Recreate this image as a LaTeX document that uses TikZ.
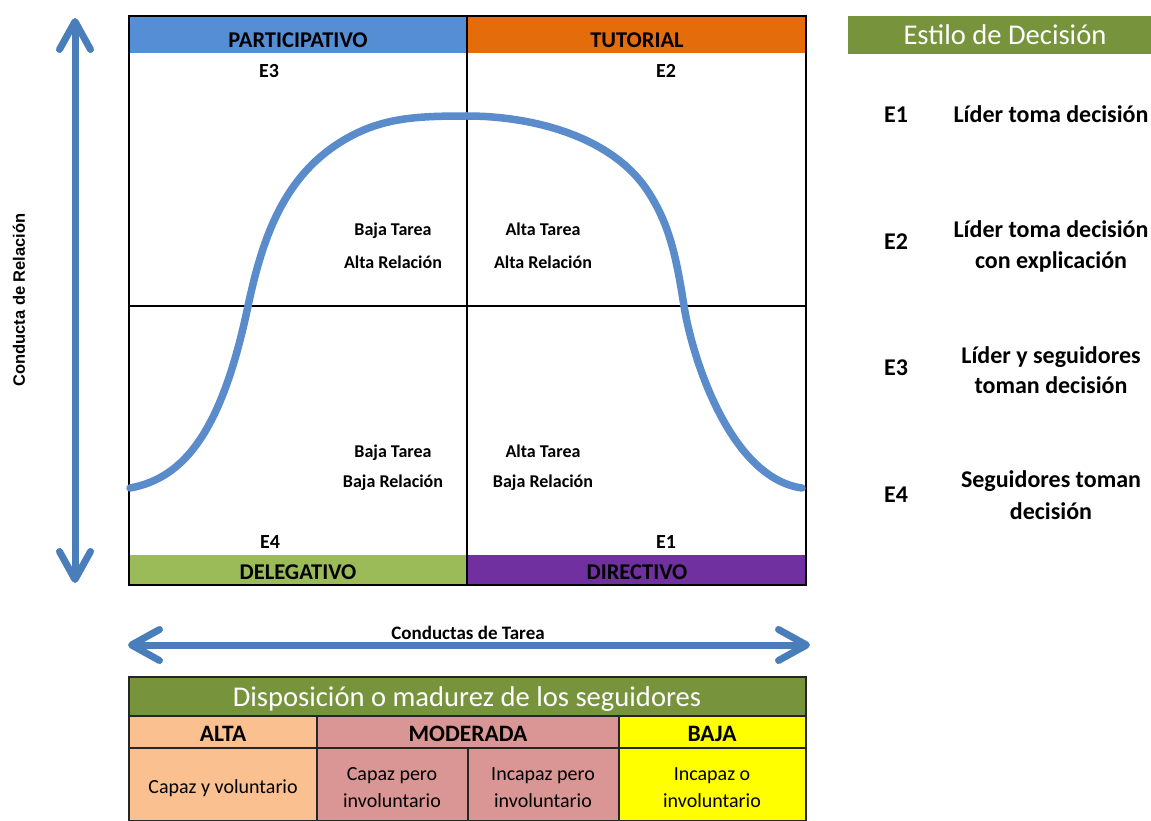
\documentclass[tikz,border=0pt]{standalone}
\usepackage{fontspec}
\setmainfont{Carlito}
\newfontfamily\axisfont{Liberation Sans}
\usetikzlibrary{arrows.meta}

\definecolor{partblue}{HTML}{558ED5}
\definecolor{tutorange}{HTML}{E46C0A}
\definecolor{delegreen}{HTML}{9BBB59}
\definecolor{dirpurple}{HTML}{7030A0}
\definecolor{olivegreen}{HTML}{77933C}
\definecolor{peach}{HTML}{FAC090}
\definecolor{rosy}{HTML}{D99694}
\definecolor{brightyellow}{HTML}{FFFF00}
\definecolor{arrowblue}{HTML}{4A7EBB}
\definecolor{curveblue}{HTML}{5A8BCA}

\tikzset{
  every node/.style={inner sep=0pt, outer sep=0pt},
  hdrtext/.style={anchor=base, font=\fontsize{22.5}{26}\selectfont\bfseries},
  elabel/.style={anchor=base, font=\fontsize{20}{24}\selectfont\bfseries},
  quadtext/.style={anchor=base, font=\fontsize{18}{22}\selectfont\bfseries},
  legtext/.style={anchor=base, font=\fontsize{24}{28}\selectfont\bfseries},
  titletext/.style={anchor=base, text=white, font=\fontsize{28.6}{33}\selectfont},
  colhead/.style={anchor=base, font=\fontsize{23.5}{27}\selectfont\bfseries},
  celltext/.style={anchor=base, font=\fontsize{20}{24}\selectfont},
  gridline/.style={draw=black, line width=1.3pt},
  tableline/.style={draw=black!85, line width=1.2pt},
  axisarrow/.style={draw=arrowblue, line width=7pt,
    {Straight Barb[length=28pt, width=31pt, round]}-{Straight Barb[length=28pt, width=31pt, round]}},
  bellcurve/.style={draw=curveblue, line width=7.5pt, line cap=round},
}

\begin{document}
\begin{tikzpicture}[x=1pt, y=-1pt]
\useasboundingbox (0,0) rectangle (1151,821);

% ---- style quadrant grid ----
\fill[partblue]  (129,16) rectangle (467,53);
\fill[tutorange] (467,16) rectangle (806,53);
\fill[delegreen] (129,555) rectangle (467,585);
\fill[dirpurple] (467,555) rectangle (806,585);
\draw[gridline] (129,306) -- (806,306);
\draw[gridline] (467,16) -- (467,585);
\draw[gridline] (129,16) rectangle (806,585);

% ---- bell-shaped leadership curve ----
\draw[bellcurve] (130,488)
  .. controls (185,478) and (222,430) .. (248,306)
  .. controls (263,236) and (285,170) .. (353,135)
  .. controls (387,117.5) and (420,116) .. (467,116)
  .. controls (530,116) and (610,135) .. (647,190)
  .. controls (669,223) and (676,255) .. (684,306)
  .. controls (692,357) and (730,478) .. (802,488);

% ---- quadrant headers and style codes ----
\node[hdrtext] (participativo) at (298,48) {PARTICIPATIVO};
\node[hdrtext] (tutorial) at (637,48) {TUTORIAL};
\node[hdrtext] (delegativo) at (298,579) {DELEGATIVO};
\node[hdrtext] (directivo) at (637,579) {DIRECTIVO};
\node[elabel] (e3) at (269,78) {E3};
\node[elabel] (e2) at (666,78) {E2};
\node[elabel] (e4) at (270,548) {E4};
\node[elabel] (e1) at (666,548) {E1};

% ---- quadrant descriptions ----
\node[quadtext] (q1a) at (393,236) {Baja Tarea};
\node[quadtext] (q1b) at (393,268) {Alta Relación};
\node[quadtext] (q2a) at (543,236) {Alta Tarea};
\node[quadtext] (q2b) at (543,268) {Alta Relación};
\node[quadtext] (q3a) at (393,457) {Baja Tarea};
\node[quadtext] (q3b) at (393,487) {Baja Relación};
\node[quadtext] (q4a) at (543,457) {Alta Tarea};
\node[quadtext] (q4b) at (543,487) {Baja Relación};

% ---- axes ----
\coordinate (vtop) at (75,18);
\coordinate (vbot) at (75,583);
\draw[axisarrow] (vtop) -- (vbot);
\node[rotate=90, font=\axisfont\fontsize{16.5}{20}\selectfont\bfseries] (ylabel) at (19,300) {Conducta de Relación};

\coordinate (hleft) at (128,645);
\coordinate (hright) at (810,645);
\draw[axisarrow] (hleft) -- (hright);
\node[anchor=base, font=\fontsize{19}{23}\selectfont\bfseries] (xlabel) at (468,639) {Conductas de Tarea};

% ---- decision style legend ----
\fill[olivegreen] (848,16) rectangle (1151,54);
\node[titletext] (legtitle) at (1005,45) {Estilo de Decisión};
\node[legtext] (l1) at (896,123) {E1};
\node[legtext] (d1) at (1051,123) {Líder toma decisión};
\node[legtext] (l2) at (896,250) {E2};
\node[legtext] (d2a) at (1051,237) {Líder toma decisión};
\node[legtext] (d2b) at (1051,268) {con explicación};
\node[legtext] (l3) at (896,375) {E3};
\node[legtext] (d3a) at (1051,363) {Líder y seguidores};
\node[legtext] (d3b) at (1051,393) {toman decisión};
\node[legtext] (l4) at (896,502) {E4};
\node[legtext] (d4a) at (1051,487) {Seguidores toman};
\node[legtext] (d4b) at (1051,519) {decisión};

% ---- follower readiness table ----
\fill[olivegreen] (129,677) rectangle (806,716);
\fill[peach] (129,716) rectangle (317,821);
\fill[rosy] (317,716) rectangle (619,821);
\fill[brightyellow] (619,716) rectangle (806,821);
\draw[tableline] (129,677) rectangle (806,821);
\draw[tableline] (129,716) -- (806,716);
\draw[tableline] (129,748) -- (806,748);
\draw[tableline] (317,716) -- (317,821);
\draw[tableline] (619,716) -- (619,821);
\draw[tableline] (468,748) -- (468,821);

\node[titletext] (tabtitle) at (467,706) {Disposición o madurez de los seguidores};
\node[colhead] (alta) at (223,741) {ALTA};
\node[colhead] (moderada) at (468,741) {MODERADA};
\node[colhead] (baja) at (712,741) {BAJA};
\node[celltext] (c1) at (223,793) {Capaz y voluntario};
\node[celltext] (c2a) at (392,780) {Capaz pero};
\node[celltext] (c2b) at (392,807) {involuntario};
\node[celltext] (c3a) at (543,780) {Incapaz pero};
\node[celltext] (c3b) at (543,807) {involuntario};
\node[celltext] (c4a) at (712,780) {Incapaz o};
\node[celltext] (c4b) at (712,807) {involuntario};
\end{tikzpicture}
\end{document}
